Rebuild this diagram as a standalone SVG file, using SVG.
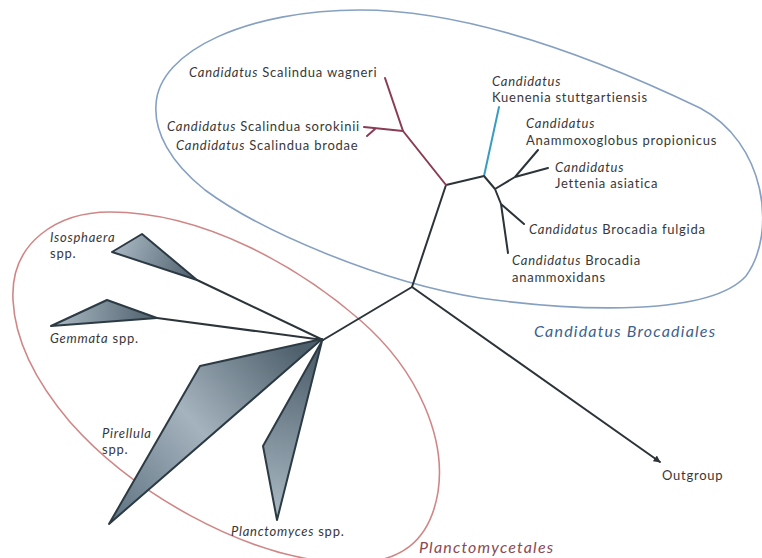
<svg xmlns="http://www.w3.org/2000/svg" width="762" height="558" viewBox="0 0 762 558">
<style>
.t{font-family:Lato,"Open Sans","Liberation Sans",sans-serif;font-size:13px;letter-spacing:0.75px;fill:#383838}
.i{font-style:italic}
.br{fill:none;stroke:#2c3439;stroke-width:2;stroke-linecap:round;stroke-linejoin:round}
.rd{fill:none;stroke:#8a3c56;stroke-width:2;stroke-linecap:round;stroke-linejoin:round}
.bl{fill:none;stroke:#3a9cc2;stroke-width:2;stroke-linecap:round}
.clade{stroke:#2c3a44;stroke-width:2;stroke-linejoin:round}
.grp{fill:none;stroke-width:1.6}
.gl{font-size:16px;letter-spacing:1.2px}
</style>
<defs>
<marker id="ah" viewBox="0 0 10 10" refX="9" refY="5" markerWidth="7" markerHeight="7" orient="auto" markerUnits="userSpaceOnUse">
<path d="M0,0 L10,5 L0,10 Z" fill="#2c3439"/>
</marker>
<linearGradient id="g1" gradientUnits="userSpaceOnUse" x1="115" y1="245" x2="195" y2="280"><stop offset="0" stop-color="#a9b8c3"/><stop offset="1" stop-color="#4e606c"/></linearGradient>
<linearGradient id="g2" gradientUnits="userSpaceOnUse" x1="55" y1="320" x2="157" y2="318"><stop offset="0" stop-color="#a9b8c3"/><stop offset="1" stop-color="#4e606c"/></linearGradient>
<linearGradient id="g3" gradientUnits="userSpaceOnUse" x1="110" y1="520" x2="300" y2="350"><stop offset="0" stop-color="#5f7381"/><stop offset="0.5" stop-color="#a5b3be"/><stop offset="1" stop-color="#4e606c"/></linearGradient>
<linearGradient id="g4" gradientUnits="userSpaceOnUse" x1="275" y1="515" x2="315" y2="355"><stop offset="0" stop-color="#a9b8c3"/><stop offset="1" stop-color="#4e606c"/></linearGradient>
</defs>

<g id="group-brocadiales">
<path class="grp" stroke="#86a0c2" d="M156,105 C158,50 250,10 360,10 C470,10 600,60 700,108 C765,142 778,232 746,276 C710,316 580,312 480,298 C380,282 262,232 205,190 C170,162 154,132 156,105 Z"/>
<text x="534" y="337" class="t i gl" style="fill:#3d5f8e">Candidatus Brocadiales</text>
</g>

<g id="group-planctomycetales">
<path class="grp" stroke="#d08686" d="M13,300 C10,242 58,212 110,212 C205,212 300,268 360,320 C420,372 446,440 438,492 C430,540 402,566 340,563 C240,556 130,490 70,422 C36,382 15,342 13,300 Z"/>
<text x="419" y="553" class="t i gl" style="fill:#8b4a56">Planctomycetales</text>
</g>

<g id="connectors">
<path class="br" d="M412,287 L446,185 L484,176"/>
<path class="br" d="M412,287 L323,340"/>
<path class="br" d="M412,287 L660,462" marker-end="url(#ah)"/>
<path class="rd" d="M446,185 L403,131 L385,78"/>
<path class="rd" d="M403,131 L364,127 M375,129 L367,136"/>
<path class="bl" d="M484,176 L499,107"/>
<path class="br" d="M484,176 L495,189 L515,177 L538,150 M515,177 L548,168 M495,189 L501,204 L524,224 M501,204 L508,253"/>
<path class="br" d="M323,340 L197,280 M323,340 L157,318 M323,340 L302,345"/>
</g>

<g id="clade-isosphaera">
<polygon class="clade" fill="url(#g1)" points="197,280 142,234 112,252"/>
<text x="50" y="242" class="t i">Isosphaera</text>
<text x="50" y="258" class="t">spp.</text>
</g>
<g id="clade-gemmata">
<polygon class="clade" fill="url(#g2)" points="157,318 107,300 51,326"/>
<text x="50" y="343" class="t"><tspan class="i">Gemmata</tspan> spp.</text>
</g>
<g id="clade-pirellula">
<polygon class="clade" fill="url(#g3)" points="322,339 200,366 109,524"/>
<text x="102" y="438" class="t i">Pirellula</text>
<text x="102" y="454" class="t">spp.</text>
</g>
<g id="clade-planctomyces">
<polygon class="clade" fill="url(#g4)" points="322,341 263,446 277,520"/>
<text x="231" y="536" class="t"><tspan class="i">Planctomyces</tspan> spp.</text>
</g>

<g id="leaf-wagneri"><text x="189" y="77" class="t"><tspan class="i">Candidatus</tspan> Scalindua wagneri</text></g>
<g id="leaf-sorokinii"><text x="167" y="131" class="t"><tspan class="i">Candidatus</tspan> Scalindua sorokinii</text></g>
<g id="leaf-brodae"><text x="176" y="150" class="t"><tspan class="i">Candidatus</tspan> Scalindua brodae</text></g>
<g id="leaf-kuenenia"><text x="492" y="86" class="t i">Candidatus</text><text x="492" y="102" class="t">Kuenenia stuttgartiensis</text></g>
<g id="leaf-anammoxoglobus"><text x="526" y="128" class="t i">Candidatus</text><text x="526" y="145" class="t">Anammoxoglobus propionicus</text></g>
<g id="leaf-jettenia"><text x="555" y="172" class="t i">Candidatus</text><text x="555" y="188" class="t">Jettenia asiatica</text></g>
<g id="leaf-fulgida"><text x="529" y="234" class="t"><tspan class="i">Candidatus</tspan> Brocadia fulgida</text></g>
<g id="leaf-anammoxidans"><text x="512" y="265" class="t"><tspan class="i">Candidatus</tspan> Brocadia</text><text x="512" y="282" class="t">anammoxidans</text></g>
<g id="leaf-outgroup"><text x="662" y="480" class="t">Outgroup</text></g>
</svg>
